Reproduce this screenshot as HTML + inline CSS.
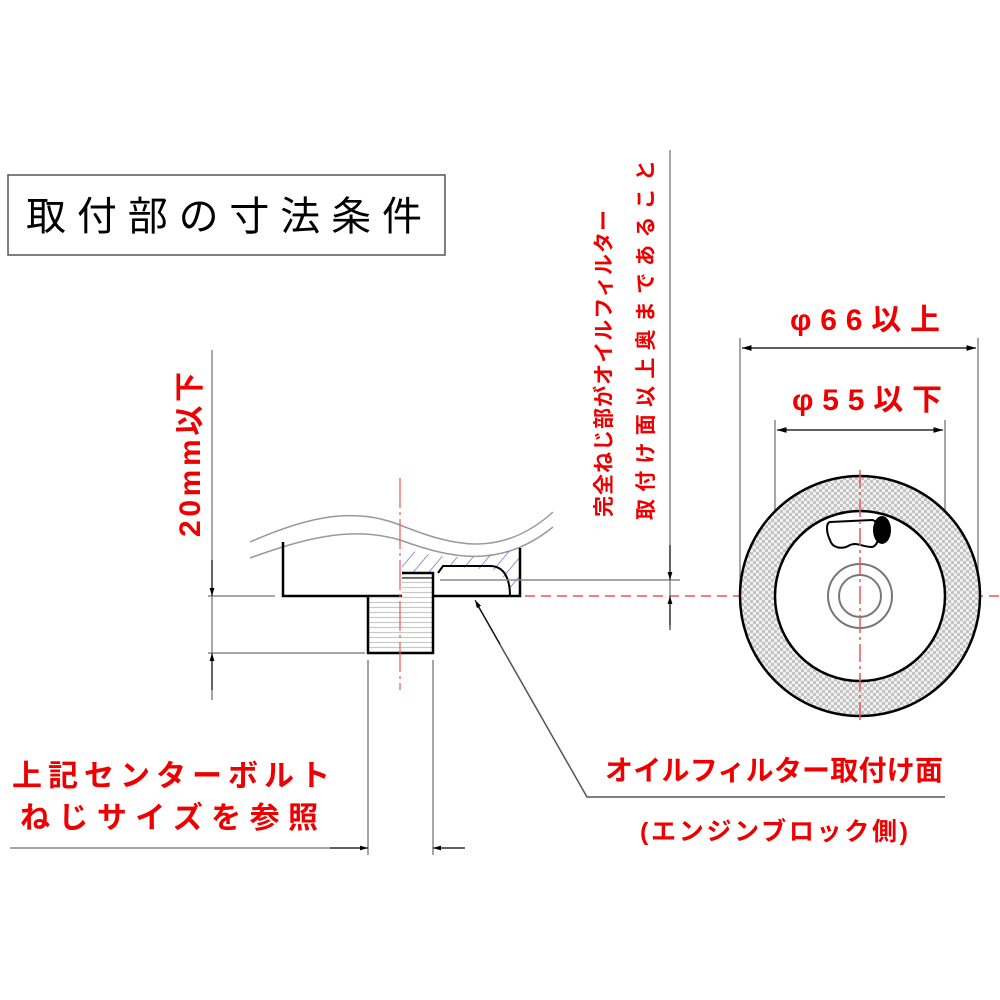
<!DOCTYPE html>
<html><head><meta charset="utf-8"><style>
html,body{margin:0;padding:0;background:#fff;width:1000px;height:1000px;overflow:hidden}
svg{display:block}
text{font-family:"Liberation Sans","Noto Sans CJK JP",sans-serif;font-weight:bold}
</style></head><body>
<svg width="1000" height="1000" viewBox="0 0 1000 1000" xmlns="http://www.w3.org/2000/svg">
<defs>
<marker id="a" viewBox="0 0 10 10" refX="10" refY="5" markerWidth="8" markerHeight="8" orient="auto-start-reverse"><path d="M0,2 L10,5 L0,8 z" fill="#000"/></marker>
<pattern id="chk" width="6" height="6" patternUnits="userSpaceOnUse"><rect width="6" height="6" fill="#f0f0f0"/><rect width="3" height="3" fill="#c4c4c4"/><rect x="3" y="3" width="3" height="3" fill="#c4c4c4"/></pattern>
<pattern id="thr" width="6" height="5" patternUnits="userSpaceOnUse"><line x1="0" y1="2.5" x2="6" y2="2.5" stroke="#c8c8c8" stroke-width="1.2"/></pattern>
<pattern id="hat" width="12" height="12" patternUnits="userSpaceOnUse" patternTransform="rotate(40)"><line x1="0" y1="0" x2="0" y2="12" stroke="#6670d8" stroke-width="1.5"/></pattern>
</defs>
<rect x="8" y="175" width="437" height="80" fill="#fff" stroke="#555" stroke-width="1.5"/>
<text x="26" y="230" font-size="40" fill="#000" style="font-weight:normal" textLength="396">取付部の寸法条件</text>

<path d="M250,542 C300,520 350,505 400,525 C450,545 500,560 553,512" fill="none" stroke="#999" stroke-width="1.5"/>
<path d="M250,558 C300,540 350,525 400,540 C450,558 500,570 553,527" fill="none" stroke="#999" stroke-width="1.5"/>
<path d="M402,548 C440,560 480,560 520,548 L520,596 L510,596 C508,585 505,575 495,570 L443,566 L438,572 L402,572 z" fill="url(#hat)"/>
<path d="M283,542 L283,596 L402,596" fill="none" stroke="#000" stroke-width="2.5"/>
<path d="M520,548 L520,596 L433,596" fill="none" stroke="#000" stroke-width="2.5"/>
<path d="M438,573 L443,566 L490,566 C505,566 510,580 510,596" fill="none" stroke="#000" stroke-width="2"/>
<rect x="402" y="573" width="31" height="23" fill="url(#thr)"/>
<rect x="368" y="596" width="65" height="57" fill="url(#thr)"/>
<path d="M402,573 L433,573 L433,653 L368,653 L368,596" fill="none" stroke="#000" stroke-width="2.5"/>
<line x1="402" y1="578" x2="433" y2="578" stroke="#000" stroke-width="1"/>
<line x1="400" y1="478" x2="400" y2="690" stroke="#e55" stroke-width="1.2" stroke-dasharray="30,4,3,4"/>
<line x1="212" y1="350" x2="212" y2="700" stroke="#888" stroke-width="1.5"/>
<line x1="208" y1="596" x2="275" y2="596" stroke="#888" stroke-width="1.5"/>
<line x1="208" y1="653" x2="365" y2="653" stroke="#888" stroke-width="1.5"/>
<line x1="212" y1="560" x2="212" y2="596" stroke="#000" stroke-width="1" marker-end="url(#a)"/>
<line x1="212" y1="690" x2="212" y2="653" stroke="#000" stroke-width="1" marker-end="url(#a)"/>
<text transform="translate(200,537) rotate(-90)" font-size="30" fill="#e00" textLength="165">20mm以下</text>

<line x1="440" y1="580" x2="680" y2="580" stroke="#888" stroke-width="1.5"/>
<line x1="525" y1="596" x2="1000" y2="596" stroke="#e55" stroke-width="1.5" stroke-dasharray="10,6"/>
<line x1="670" y1="150" x2="670" y2="625" stroke="#888" stroke-width="1.5"/>
<line x1="670" y1="545" x2="670" y2="580" stroke="#000" stroke-width="1" marker-end="url(#a)"/>
<line x1="670" y1="630" x2="670" y2="596" stroke="#000" stroke-width="1" marker-end="url(#a)"/>
<text transform="translate(611,517) rotate(-90)" font-size="21" fill="#e00" textLength="307">完全ねじ部がオイルフィルター</text>
<text transform="translate(653,520) rotate(-90)" font-size="21" fill="#e00" textLength="360">取付け面以上奥まであること</text>

<line x1="368" y1="660" x2="368" y2="855" stroke="#888" stroke-width="1.5"/>
<line x1="433" y1="660" x2="433" y2="855" stroke="#888" stroke-width="1.5"/>
<line x1="10" y1="848" x2="368" y2="848" stroke="#888" stroke-width="1.5"/>
<line x1="433" y1="848" x2="465" y2="848" stroke="#888" stroke-width="1.5"/>
<line x1="330" y1="848" x2="368" y2="848" stroke="#000" stroke-width="1" marker-end="url(#a)"/>
<line x1="465" y1="848" x2="433" y2="848" stroke="#000" stroke-width="1" marker-end="url(#a)"/>
<text x="12" y="786" font-size="30" fill="#e00" textLength="318">上記センターボルト</text>
<text x="20" y="828" font-size="30" fill="#e00" textLength="298">ねじサイズを参照</text>

<polyline points="945,797 587,797 478,606" fill="none" stroke="#555" stroke-width="1.5"/>
<line x1="500" y1="644" x2="475" y2="600" stroke="#000" stroke-width="1" marker-end="url(#a)"/>
<text x="605" y="780" font-size="28" fill="#e00" textLength="338">オイルフィルター取付け面</text>
<text x="640" y="840" font-size="25" fill="#e00" textLength="268">(エンジンブロック側)</text>

<line x1="740" y1="338" x2="740" y2="596" stroke="#888" stroke-width="1.5"/>
<line x1="978" y1="338" x2="978" y2="596" stroke="#888" stroke-width="1.5"/>
<line x1="775" y1="420" x2="775" y2="596" stroke="#888" stroke-width="1.5"/>
<line x1="945" y1="420" x2="945" y2="596" stroke="#888" stroke-width="1.5"/>
<line x1="742" y1="348" x2="976" y2="348" stroke="#000" stroke-width="1.2" marker-start="url(#a)" marker-end="url(#a)"/>
<line x1="777" y1="430" x2="943" y2="430" stroke="#000" stroke-width="1.2" marker-start="url(#a)" marker-end="url(#a)"/>
<text x="790" y="330" font-size="30" fill="#e00" textLength="150">φ66以上</text>
<text x="792" y="410" font-size="30" fill="#e00" textLength="150">φ55以下</text>

<circle cx="860" cy="596" r="120" fill="url(#chk)" stroke="#000" stroke-width="2.5"/>
<circle cx="860" cy="596" r="85" fill="#fff" stroke="#000" stroke-width="2.5"/>
<path d="M830,522 L872,520 C880,520 882,545 872,547 C862,547 858,542 850,545 C842,550 832,548 830,540 C826,532 826,523 830,522 z" fill="#fff" stroke="#000" stroke-width="2"/>
<ellipse cx="882" cy="530" rx="9" ry="14" fill="#000"/>
<circle cx="860" cy="596" r="32" fill="none" stroke="#777" stroke-width="2"/>
<circle cx="860" cy="596" r="21" fill="none" stroke="#777" stroke-width="2"/>
<line x1="860" y1="470" x2="860" y2="722" stroke="#e55" stroke-width="1.5" stroke-dasharray="18,4,3,4"/>
</svg>
</body></html>
